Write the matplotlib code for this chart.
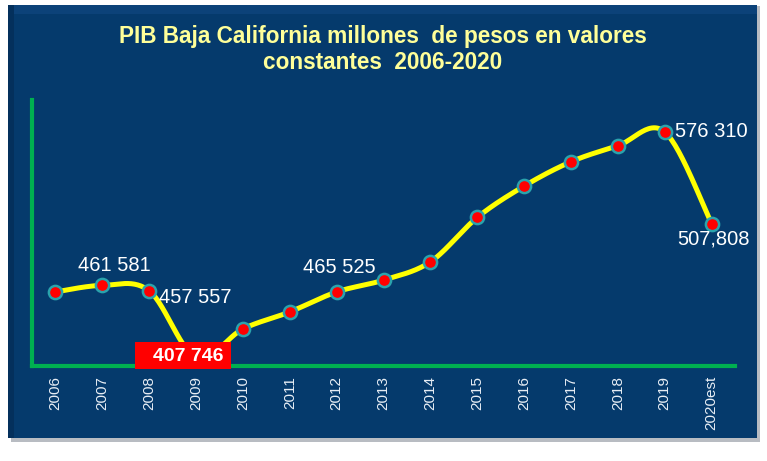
import numpy as np
import matplotlib
matplotlib.use("Agg")
import matplotlib.pyplot as plt
from matplotlib.patches import Rectangle

years = ["2006", "2007", "2008", "2009", "2010", "2011", "2012", "2013",
         "2014", "2015", "2016", "2017", "2018", "2019", "2020est"]
pib = [456700, 461581, 457557, 407746, 429030, 441745, 456700, 465525,
       479150, 512350, 535770, 553950, 565910, 576310, 507808]

label_idx = [1, 2, 3, 7, 13, 14]
label_txt = ["461 581", "457 557", "407 746", "465 525", "576 310", "507,808"]

plt.rcParams['font.family'] = ['Liberation Sans', 'DejaVu Sans']

W, H = 767, 461
fig = plt.figure(figsize=(W / 100, H / 100), dpi=100)
fig.patch.set_facecolor('white')

navy = '#053a6c'
# shadow
fig.patches.append(Rectangle((11 / W, 1 - 442 / H), 749 / W, 436 / H,
                             transform=fig.transFigure, facecolor='#b8bcc2',
                             edgecolor='none', zorder=0))
# panel
fig.patches.append(Rectangle((8 / W, 1 - 438 / H), 749 / W, 433 / H,
                             transform=fig.transFigure, facecolor=navy,
                             edgecolor='none', zorder=1))
# bevel top / left
fig.patches.append(Rectangle((8 / W, 1 - 14 / H), 749 / W, 9 / H,
                             transform=fig.transFigure, facecolor='#0c4279',
                             edgecolor='none', zorder=1))
fig.patches.append(Rectangle((8 / W, 1 - 438 / H), 6 / W, 433 / H,
                             transform=fig.transFigure, facecolor='#04305c',
                             edgecolor='none', zorder=1))

ax = fig.add_axes([32 / W, 1 - 366 / H, 703 / W, 266 / H])
ax.set_facecolor('none')
ax.set_zorder(2)

x = np.arange(len(years))
y = np.array(pib, dtype=float)

# Catmull-Rom smoothing (like Excel smoothed lines)
P = np.column_stack([x, y])
ext = np.vstack([P[0], P, P[-1]])
xs, ys = [], []
t = np.linspace(0, 1, 30)
for i in range(len(P) - 1):
    p0, p1, p2, p3 = ext[i], ext[i + 1], ext[i + 2], ext[i + 3]
    c1 = p1 + (p2 - p0) / 6
    c2 = p2 - (p3 - p1) / 6
    seg = ((1 - t)[:, None] ** 3 * p1 + 3 * ((1 - t) ** 2 * t)[:, None] * c1
           + 3 * ((1 - t) * t ** 2)[:, None] * c2 + (t ** 3)[:, None] * p2)
    xs.extend(seg[:, 0]); ys.extend(seg[:, 1])

ax.plot(xs, ys, color='#ffff00', lw=3.6, zorder=3, solid_capstyle='round')
ax.plot(x, y, 'o', ms=9.5, mfc='#ff0000', mec='#2aa3ad', mew=1.8, zorder=4)

ax.set_xlim(-0.5, len(years) - 0.5)
ax.set_ylim(401350, 600100)

for s in ['top', 'right']:
    ax.spines[s].set_visible(False)
for s in ['left', 'bottom']:
    ax.spines[s].set_color('#00b050')
    ax.spines[s].set_linewidth(3)
ax.set_yticks([])
ax.set_xticks(x)
ax.set_xticklabels(years, rotation=90, color='#e8eef5', fontsize=11)
ax.tick_params(axis='x', length=0, pad=7)

lab_kw = dict(color='white', fontsize=14.5, zorder=5)
# (x shift in categories, y shift in points, alignment)
offsets = {1: (0.25, 14, 'center'), 2: (0.22, -5, 'left'),
           7: (-0.95, 9, 'center'), 13: (0.22, 0, 'left'),
           14: (0.05, -11, 'center')}
for i, txt in zip(label_idx, label_txt):
    if i == 3:
        ax.add_patch(Rectangle((x[i] - 1.31, 398900), 2.05, 20200,
                               facecolor='#ff0000', edgecolor='none',
                               zorder=6, clip_on=False))
        ax.annotate(txt, (x[i] - 0.17, y[i]), xytext=(0, 0.7),
                    textcoords='offset points', ha='center', va='center',
                    color='white', fontsize=14, fontweight='bold', zorder=7,
                    annotation_clip=False)
        continue
    dx, dy, ha = offsets[i]
    ax.annotate(txt, (x[i] + dx, y[i]), xytext=(0, dy),
                textcoords='offset points', ha=ha, va='center', **lab_kw)

fig.text(383 / W, 1 - 37 / H, "PIB Baja California millones  de pesos en valores",
         ha='center', va='center', color='#ffff99', fontsize=16.3,
         fontweight='bold', zorder=5)
fig.text(383 / W, 1 - 62 / H, "constantes  2006-2020",
         ha='center', va='center', color='#ffff99', fontsize=16.3,
         fontweight='bold', zorder=5)

fig.savefig('out.png', dpi=100, facecolor=fig.get_facecolor())
